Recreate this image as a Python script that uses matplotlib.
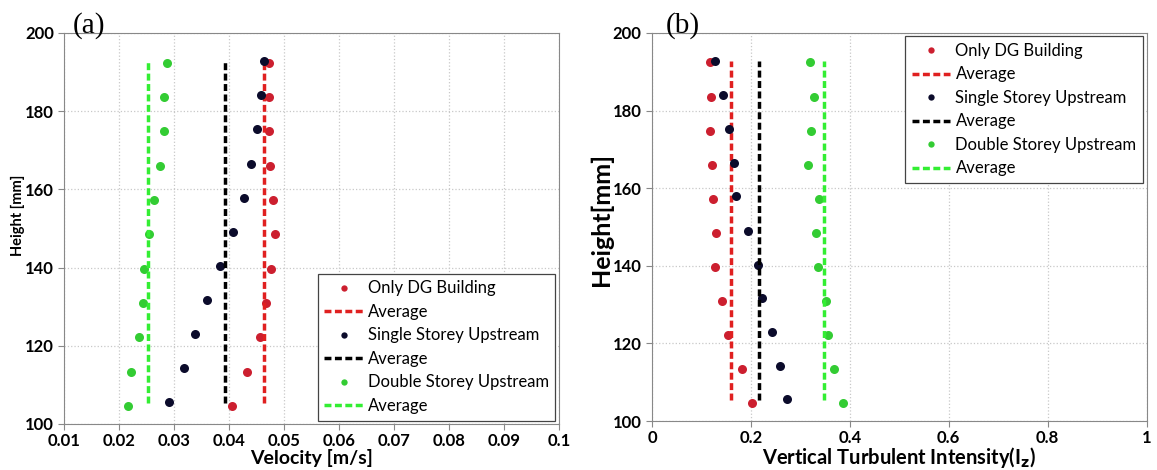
import numpy as np
import matplotlib.pyplot as plt

# heights [mm], top to bottom
h_red = [192.4, 183.5, 174.8, 166.0, 157.3, 148.5, 139.7, 131.0, 122.2, 113.4, 104.6]
h_blk = [192.8, 184.0, 175.3, 166.5, 157.9, 149.1, 140.3, 131.6, 123.0, 114.2, 105.6]
h_grn = h_red

# (a) velocity [m/s]
vel_only = [0.0472, 0.0473, 0.0473, 0.0475, 0.0479, 0.0484, 0.0477, 0.0467, 0.0456, 0.0433, 0.0406]
vel_single = [0.0463, 0.0458, 0.0450, 0.0440, 0.0427, 0.0407, 0.0383, 0.0359, 0.0337, 0.0317, 0.0290]
vel_double = [0.0287, 0.0282, 0.0282, 0.0275, 0.0263, 0.0255, 0.0245, 0.0243, 0.0235, 0.0221, 0.0215]
vel_avg = [0.0463, 0.0393, 0.0253]

# (b) vertical turbulent intensity
ti_only = [0.118, 0.119, 0.118, 0.121, 0.124, 0.129, 0.128, 0.141, 0.154, 0.183, 0.203]
ti_single = [0.127, 0.144, 0.155, 0.165, 0.170, 0.195, 0.215, 0.223, 0.243, 0.258, 0.273]
ti_double = [0.319, 0.328, 0.322, 0.316, 0.338, 0.331, 0.336, 0.352, 0.355, 0.369, 0.387]
ti_avg = [0.159, 0.216, 0.348]

avg_span = [105.4, 192.7]
labels = ['Only DG Building', 'Average', 'Single Storey Upstream', 'Average',
          'Double Storey Upstream', 'Average']

c_pts = ['#cc1f2f', '#0b0b2b', '#33cc33']
c_line = ['#e02020', '#000000', '#33ee33']

plt.rcParams['font.family'] = ['Lato', 'DejaVu Sans']

fig = plt.figure(figsize=(11.57, 4.70), dpi=100)
ax1 = fig.add_axes([0.0556, 0.098, 0.4274, 0.832])
ax2 = fig.add_axes([0.5635, 0.104, 0.4275, 0.826])


def draw(ax, series, avgs, hs):
    handles = []
    for i in range(3):
        p, = ax.plot(series[i], hs[i], 'o', color=c_pts[i], ms=6.5, mec='none')
        l, = ax.plot([avgs[i], avgs[i]], avg_span, '--', color=c_line[i], lw=2.5,
                     dashes=(2, 1))
        handles += [p, l]
    ax.set_ylim(100, 200)
    ax.set_yticks(np.arange(100, 201, 20))
    ax.grid(True, ls=':', color='#c8c8c8', lw=0.9)
    for s in ax.spines.values():
        s.set_color('#888888')
    ax.tick_params(length=4, color='#888888', width=0.8)
    ax.tick_params(axis='x', pad=2.5)
    for t in ax.get_xticklabels() + ax.get_yticklabels():
        t.set_fontweight('bold')
        t.set_fontsize(12)
    return handles


def legend(ax, hd, loc):
    leg = ax.legend(hd, labels, loc=loc, fontsize=12, handlelength=2.3,
                    handletextpad=0.3, labelspacing=0.45, borderaxespad=0.2,
                    borderpad=0.4, markerscale=0.7, fancybox=False, framealpha=1)
    leg.get_frame().set_edgecolor('#444444')
    leg.get_frame().set_linewidth(0.9)


hs = [h_red, h_blk, h_grn]
hd = draw(ax1, [vel_only, vel_single, vel_double], vel_avg, hs)
ax1.set_xlim(0.01, 0.1)
ax1.set_xticks(np.arange(0.01, 0.1001, 0.01))
ax1.set_xticklabels(['0.01', '0.02', '0.03', '0.04', '0.05', '0.06', '0.07',
                     '0.08', '0.09', '0.1'], fontweight='bold', fontsize=12)
ax1.set_xlabel('Velocity [m/s]', fontweight='bold', fontsize=14, labelpad=0)
ax1.set_ylabel('Height [mm]', fontweight='bold', fontsize=10.5)
ax1.yaxis.set_label_coords(-0.08, 0.533)
legend(ax1, hd, 'lower right')

hd = draw(ax2, [ti_only, ti_single, ti_double], ti_avg, hs)
ax2.set_xlim(0, 1)
ax2.set_xticks(np.arange(0, 1.01, 0.2))
ax2.set_xticklabels(['0', '0.2', '0.4', '0.6', '0.8', '1'], fontweight='bold', fontsize=12)
ax2.set_xlabel('Vertical Turbulent Intensity(I$_\\mathbf{z}$)', fontweight='bold',
               fontsize=14.5, labelpad=-1)
ax2.set_ylabel('Height[mm]', fontweight='bold', fontsize=18)
ax2.yaxis.set_label_coords(-0.079, 0.52)
legend(ax2, hd, 'upper right')

fig.text(0.063, 0.918, '(a)', family='Liberation Serif', fontsize=21, va='bottom')
fig.text(0.575, 0.918, '(b)', family='Liberation Serif', fontsize=21, va='bottom')

fig.savefig('out.png', dpi=100)
